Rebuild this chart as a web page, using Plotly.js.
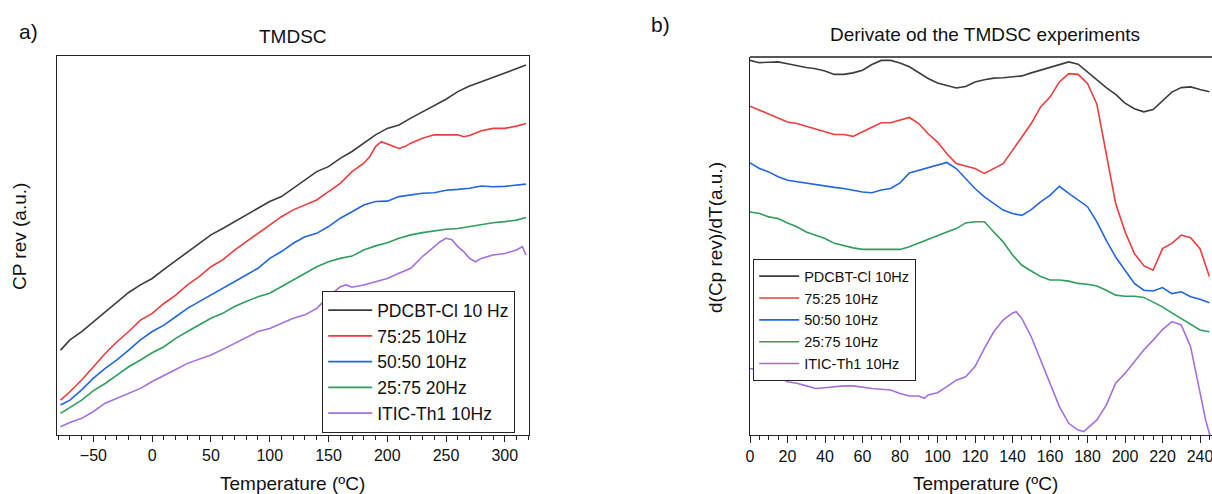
<!DOCTYPE html>
<html>
<head>
<meta charset="utf-8">
<script src="https://cdn.plot.ly/plotly-3.0.1.min.js"></script>
<style>
html,body{margin:0;padding:0;background:#fff;overflow:hidden;}
#chart{width:1212px;height:494px;}
</style>
</head>
<body>
<div id="chart"></div>
<script>
// ---------- Panel a) TMDSC (Cp rev, a.u.) ----------
const tempA = [-78,-70,-60,-50,-40,-30,-20,-10,0,10,20,30,40,50,60,70,80,90,100,110,120,130,140,150,160,170,180,190,200,210,220,230,240,250,260,270,280,290,300,310,318];
const cpPDCBT = [22.4,25.1,27.3,29.9,32.5,35.2,37.6,39.6,41.3,43.7,46.0,48.4,50.6,52.8,54.5,56.3,58.0,59.8,61.6,62.9,65.1,67.3,69.5,70.8,73.0,74.8,77.0,79.2,80.9,81.8,83.6,85.3,87.1,88.6,90.6,92.1,93.2,94.4,95.4,96.7,97.6];
const tempA_7525 = [-78,-70,-60,-50,-40,-30,-20,-10,0,10,20,30,40,50,60,70,80,90,100,110,120,130,140,150,160,170,180,185,190,195,200,205,210,215,220,230,240,250,260,265,270,280,290,300,310,318];
const cp7525 = [9.2,11.4,14.5,18.0,21.5,24.6,27.3,30.3,32.1,34.7,36.9,39.6,41.8,44.4,46.2,48.8,51.0,53.2,55.4,57.6,59.4,60.7,62.0,64.2,66.4,69.5,71.7,73.4,76.1,77.4,76.8,76.1,75.6,76.1,77.0,78.3,79.2,79.2,79.2,78.7,79.0,80.3,80.9,80.9,81.5,82.2];
const cp5050 = [7.9,9.2,11.9,15.0,17.6,19.8,22.4,25.1,27.3,29.0,31.2,33.4,35.2,36.9,38.7,40.5,42.2,44.0,46.6,48.4,50.6,52.3,53.2,55.0,57.2,58.9,60.7,61.6,61.7,62.9,63.3,63.8,63.9,64.6,64.8,65.1,65.7,65.5,65.6,66.0,66.2];
const cp2575 = [5.7,7.3,9.2,11.7,13.6,15.8,18.0,19.8,21.7,23.3,25.5,27.3,29.0,30.8,32.1,33.9,35.2,36.5,37.4,39.1,40.9,42.7,44.4,45.7,46.6,47.2,48.8,49.9,50.7,51.9,52.8,53.4,53.8,54.3,54.5,55.0,55.4,56.0,56.3,56.7,57.4];
const tempA_ITIC = [-78,-70,-60,-50,-40,-30,-20,-10,0,10,20,30,40,50,60,70,80,90,100,110,120,130,140,150,160,165,170,180,190,200,210,220,230,240,245,250,255,260,265,270,275,280,290,300,310,315,318];
const cpITIC = [2.2,3.3,4.4,6.2,8.4,9.7,11.0,12.3,14.1,15.8,17.3,18.9,20.0,21.1,22.6,24.2,25.9,27.3,28.1,29.5,30.8,31.7,33.4,36.5,39.1,39.6,39.0,39.6,40.5,41.3,42.7,44.0,47.1,49.7,51.0,51.9,51.5,49.7,48.4,46.6,45.7,46.6,47.5,47.9,48.8,49.7,47.5];
const namesA = ["PDCBT-Cl 10 Hz","75:25 10Hz","50:50 10Hz","25:75 20Hz","ITIC-Th1 10Hz"];

// ---------- Panel b) derivative d(Cp rev)/dT (a.u.) ----------
const tempB = [0,5,10,15,20,25,30,35,40,45,50,55,60,65,70,75,80,85,90,95,100,105,110,115,120,125,130,135,140,145,150,155,160,165,170,175,180,185,190,195,200,205,210,215,220,225,230,235,240,245];
const dPDCBT = [99.1,98.5,98.6,98.7,98.2,97.6,97.2,96.9,96.3,95.4,95.4,95.8,96.5,98.0,99.1,99.1,98.4,97.4,95.8,94.3,93.1,92.5,91.8,92.2,93.4,94.0,94.4,94.5,94.7,95.0,95.8,96.5,97.4,98.0,98.7,98.1,96.0,93.8,91.9,90.1,87.8,86.3,85.5,86.1,88.5,90.7,91.9,92.1,91.4,90.8];
const d7525 = [87.0,85.9,85.0,83.7,82.8,82.4,81.7,80.8,80.2,79.5,79.5,79.0,80.2,81.5,82.6,82.6,83.4,84.0,82.4,79.7,77.5,74.4,71.8,71.1,70.5,69.2,70.5,71.8,75.3,78.9,82.4,86.8,89.4,93.4,95.6,95.4,93.0,87.5,74.0,61.3,53.8,48.0,44.8,43.6,49.3,50.7,52.9,52.2,49.3,41.9];
const d5050 = [72.0,70.5,69.6,68.3,67.4,67.0,66.5,66.1,65.8,65.5,65.2,64.8,64.3,64.1,64.8,65.2,66.7,69.3,70.0,70.5,71.4,72.1,70.5,67.8,65.2,63.0,61.2,59.5,58.6,58.1,59.6,61.7,63.4,65.8,63.9,62.1,60.4,56.4,51.5,47.1,43.6,40.1,38.3,38.1,39.0,37.4,37.9,36.6,35.9,35.0];
const d2575 = [59.0,58.6,57.7,57.3,56.1,55.1,53.7,52.9,52.0,50.7,50.0,49.5,49.1,49.1,49.2,49.1,49.1,49.8,50.8,51.7,52.9,53.7,54.6,56.1,56.4,56.4,53.7,51.1,47.6,44.9,43.4,41.9,41.0,41.0,40.7,40.1,39.9,39.4,38.3,37.0,36.7,36.7,36.4,35.2,33.9,32.3,30.8,29.5,27.8,27.3];
const tempB_ITIC = [0,5,10,15,20,25,30,35,40,45,50,55,60,65,70,75,80,85,90,93,95,100,105,110,115,120,125,130,135,140,142,145,150,155,160,165,170,175,178,180,185,190,195,200,205,210,215,220,225,230,235,240,243,245,248];
const dITIC = [17.6,17.2,16.1,15.4,14.1,13.7,13.0,12.3,12.5,12.8,13.0,13.0,12.6,12.3,12.1,11.9,11.0,10.3,10.3,9.7,10.6,11.2,12.8,14.5,15.4,18.1,22.9,27.3,30.4,32.3,32.6,30.8,26.0,19.8,13.7,7.5,3.1,1.3,0.9,1.8,4.0,7.9,13.7,16.3,19.4,22.5,25.1,27.9,30.0,29.1,23.3,11.0,4.0,0.4,-6.0];
const namesB = ["PDCBT-Cl 10Hz","75:25 10Hz","50:50 10Hz","25:75 10Hz","ITIC-Th1 10Hz"];

const colors = ["#3c3c3c","#ee3b3b","#1f66e0","#2e9e5a","#a56ee0"];
const FONT = "Liberation Sans, Arial, Helvetica, sans-serif";

const W = 1212, H = 494;
const px = v => v / W;
const py = v => 1 - v / H;

const xsA = [tempA, tempA_7525, tempA, tempA, tempA_ITIC];
const ysA = [cpPDCBT, cp7525, cp5050, cp2575, cpITIC];
const xsB = [tempB, tempB, tempB, tempB, tempB_ITIC];
const ysB = [dPDCBT, d7525, d5050, d2575, dITIC];

const traces = [];
for (let i = 0; i < 5; i++) {
  traces.push({x: xsA[i], y: ysA[i], name: namesA[i], type: "scatter", mode: "lines",
    line: {color: colors[i], width: 1.6}, xaxis: "x", yaxis: "y", legend: "legend"});
}
for (let i = 0; i < 5; i++) {
  traces.push({x: xsB[i], y: ysB[i], name: namesB[i], type: "scatter", mode: "lines",
    line: {color: colors[i], width: 1.6}, xaxis: "x2", yaxis: "y2", legend: "legend2"});
}

const axisCommon = {showgrid: false, zeroline: false, showline: true, linecolor: "#222", linewidth: 1.4,
  ticks: "outside", tickcolor: "#222", tickwidth: 1.2, ticklabeloverflow: "allow",
  tickfont: {family: FONT, size: 16, color: "#111"}};

const layout = {
  width: W, height: H,
  margin: {l: 0, r: 0, t: 0, b: 0},
  paper_bgcolor: "#fff", plot_bgcolor: "#fff",
  font: {family: FONT, color: "#111"},
  xaxis: Object.assign({}, axisCommon, {domain: [px(57), px(529)], range: [-81, 320.6], dtick: 50, tick0: 0,
    ticklen: 6, mirror: true, anchor: "y",
    minor: {dtick: 10, tick0: 0, ticks: "outside", ticklen: 3.5, tickcolor: "#222", tickwidth: 1.1}}),
  yaxis: {domain: [1 - 435/H, 1 - 56/H], range: [0, 100], showgrid: false, zeroline: false, showline: true,
    linecolor: "#222", linewidth: 1.4, mirror: true, ticks: "", showticklabels: false, anchor: "x"},
  xaxis2: Object.assign({}, axisCommon, {domain: [px(750), 1], range: [0, 246.4], dtick: 20, tick0: 0,
    ticklen: 7, mirror: false, anchor: "y2",
    minor: {dtick: 5, tick0: 0, ticks: "outside", ticklen: 4, tickcolor: "#222", tickwidth: 1.1}}),
  yaxis2: {domain: [1 - 435/H, 1 - 57/H], range: [0, 100], showgrid: false, zeroline: false, showline: true,
    linecolor: "#222", linewidth: 1.4, mirror: false, ticks: "", showticklabels: false, anchor: "x2"},
  shapes: [
    {type: "line", xref: "paper", yref: "paper", x0: px(750), x1: 1, y0: py(57), y1: py(57),
     line: {color: "#222", width: 1.4}}
  ],
  legend: {x: px(322), y: py(433), xanchor: "left", yanchor: "bottom", bgcolor: "#fff",
    bordercolor: "#222", borderwidth: 1.2, font: {family: FONT, size: 17.5, color: "#111"},
    itemwidth: 44, tracegroupgap: 0},
  legend2: {x: px(753), y: py(259), xanchor: "left", yanchor: "top", bgcolor: "#fff",
    bordercolor: "#222", borderwidth: 1.2, font: {family: FONT, size: 14.5, color: "#111"},
    itemwidth: 40, tracegroupgap: 0},
  annotations: [
    {text: "a)", xref: "paper", yref: "paper", x: px(28), y: py(32), xanchor: "center", yanchor: "middle",
     showarrow: false, font: {family: FONT, size: 21, color: "#111"}},
    {text: "TMDSC", xref: "paper", yref: "paper", x: px(292.5), y: py(37), xanchor: "center", yanchor: "middle",
     showarrow: false, font: {family: FONT, size: 19, color: "#111"}},
    {text: "b)", xref: "paper", yref: "paper", x: px(660), y: py(25), xanchor: "center", yanchor: "middle",
     showarrow: false, font: {family: FONT, size: 21, color: "#111"}},
    {text: "Derivate od the TMDSC experiments", xref: "paper", yref: "paper", x: px(985), y: py(35),
     xanchor: "center", yanchor: "middle", showarrow: false, font: {family: FONT, size: 19, color: "#111"}},
    {text: "Temperature (ºC)", xref: "paper", yref: "paper", x: px(292.5), y: py(483), xanchor: "center", yanchor: "middle",
     showarrow: false, font: {family: FONT, size: 19, color: "#111"}},
    {text: "Temperature (ºC)", xref: "paper", yref: "paper", x: px(985), y: py(483), xanchor: "center", yanchor: "middle",
     showarrow: false, font: {family: FONT, size: 19, color: "#111"}},
    {text: "CP rev (a.u.)", xref: "paper", yref: "paper", x: px(20), y: py(237), xanchor: "center", yanchor: "middle",
     textangle: -90, showarrow: false, font: {family: FONT, size: 19, color: "#111"}},
    {text: "d(Cp rev)/dT(a.u.)", xref: "paper", yref: "paper", x: px(715), y: py(238), xanchor: "center", yanchor: "middle",
     textangle: -90, showarrow: false, font: {family: FONT, size: 19, color: "#111"}}
  ]
};

Plotly.newPlot("chart", traces, layout, {displayModeBar: false, responsive: false});
</script>
</body>
</html>
